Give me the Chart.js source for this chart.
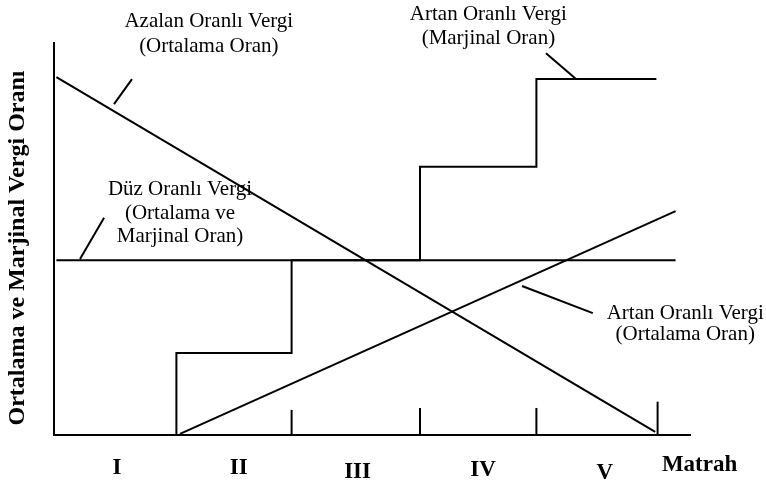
<!DOCTYPE html>
<html>
<head>
<meta charset="utf-8">
<script src="https://cdn.jsdelivr.net/npm/chart.js@4.4.0/dist/chart.umd.min.js"></script>
<style>
	html, body { margin: 0; padding: 0; background: #fff; }
	#wrap { width: 766px; height: 489px; }
</style>
</head>
<body>
<div id="wrap"><canvas id="chart-vergi" width="766" height="489"></canvas></div>
<script>
// x: matrah (one unit ~ one bracket), y: vergi orani (0-100)
const DECREASING_AVG = [{ x: 0.02, y: 91.3 }, { x: 5.01, y: 0.8 }];
const FLAT_RATE = [{ x: 0.02, y: 44.6 }, { x: 5.18, y: 44.6 }];
const PROGRESSIVE_MARGINAL = [
	{ x: 1.02, y: 0 }, { x: 1.02, y: 20.9 },
	{ x: 1.98, y: 20.9 }, { x: 1.98, y: 44.6 },
	{ x: 3.05, y: 44.6 }, { x: 3.05, y: 68.4 },
	{ x: 4.02, y: 68.4 }, { x: 4.02, y: 90.8 },
	{ x: 5.02, y: 90.8 },
];
const PROGRESSIVE_AVG = [{ x: 1.05, y: 0.3 }, { x: 5.18, y: 57.1 }];

// bracket boundary ticks on the matrah axis
const BRACKET_TICK_X = [1.98, 3.05, 4.02, 5.03];
const BRACKET_TICK_H = [6.4, 6.9, 6.9, 8.5];

// leader lines from labels to curves
const LEADER_AZALAN = [{ x: 0.65, y: 90.8 }, { x: 0.5, y: 84.4 }];
const LEADER_DUZ = [{ x: 0.417, y: 55.4 }, { x: 0.217, y: 44.9 }];
const LEADER_MARJINAL = [{ x: 4.1, y: 97.4 }, { x: 4.35, y: 90.8 }];
const LEADER_ORTALAMA = [{ x: 3.9, y: 38.0 }, { x: 4.49, y: 31.1 }];

// bracket labels
const BRACKET_LABELS = ["I", "II", "III", "IV", "V", "Matrah"];
const BRACKET_LABEL_X = [0.525, 1.54, 2.53, 3.575, 4.59, 5.38];
const BRACKET_LABEL_Y = [-8.4, -8.4, -9.4, -8.9, -9.7, -7.7];

const Y_TITLE = "Ortalama ve Marjinal Vergi Oranı";

// curve captions: anchor (center of first line) + lines
const CAPTIONS = [
	{ x: 1.29, y: 105.4, lines: ["Azalan Oranlı Vergi", "(Ortalama Oran)"], gap: 25 },
	{ x: 3.62, y: 107.2, lines: ["Artan Oranlı Vergi", "(Marjinal Oran)"], gap: 23.5 },
	{ x: 1.05, y: 62.6, lines: ["Düz Oranlı Vergi", "(Ortalama ve", "Marjinal Oran)"], gap: 23.5 },
	{ x: 5.26, y: 31.0, lines: ["Artan Oranlı Vergi", "(Ortalama Oran)"], gap: 21.5 },
];

const INK = "#000";

const lineSet = (data, width) => ({
	data: data,
	borderColor: INK,
	backgroundColor: INK,
	borderWidth: width,
	pointRadius: 0,
	tension: 0,
	fill: false,
});

const tickSets = BRACKET_TICK_X.map((x, i) => lineSet([{ x: x, y: 0 }, { x: x, y: BRACKET_TICK_H[i] }], 2));

const textPlugin = {
	id: "texts",
	afterDraw(chart) {
		const { ctx, scales } = chart;
		const sx = scales.x, sy = scales.y;
		ctx.save();
		ctx.fillStyle = INK;
		ctx.textAlign = "center";
		ctx.textBaseline = "middle";

		ctx.font = "21px 'Liberation Serif', 'Times New Roman', serif";
		CAPTIONS.forEach((c) => {
			const px = sx.getPixelForValue(c.x);
			const py = sy.getPixelForValue(c.y);
			c.lines.forEach((t, i) => ctx.fillText(t, px, py + i * c.gap));
		});

		ctx.font = "bold 23px 'Liberation Serif', 'Times New Roman', serif";
		BRACKET_LABELS.forEach((t, i) => {
			ctx.fillText(t, sx.getPixelForValue(BRACKET_LABEL_X[i]), sy.getPixelForValue(BRACKET_LABEL_Y[i]));
		});

		ctx.font = "bold 24px 'Liberation Serif', 'Times New Roman', serif";
		ctx.translate(sx.getPixelForValue(-0.3), sy.getPixelForValue(47.7));
		ctx.rotate(-Math.PI / 2);
		ctx.fillText(Y_TITLE, 0, 0);
		ctx.restore();
	},
};

const bgPlugin = {
	id: "bg",
	beforeDraw(chart) {
		const ctx = chart.ctx;
		ctx.save();
		ctx.fillStyle = "#fff";
		ctx.fillRect(0, 0, chart.width, chart.height);
		ctx.restore();
	},
};

new Chart(document.getElementById("chart-vergi"), {
	type: "line",
	data: {
		datasets: [
			lineSet(DECREASING_AVG, 2),
			lineSet(FLAT_RATE, 2),
			lineSet(PROGRESSIVE_MARGINAL, 2),
			lineSet(PROGRESSIVE_AVG, 2),
			lineSet(LEADER_AZALAN, 2),
			lineSet(LEADER_DUZ, 2),
			lineSet(LEADER_MARJINAL, 2),
			lineSet(LEADER_ORTALAMA, 2),
			...tickSets,
		],
	},
	options: {
		responsive: false,
		animation: false,
		devicePixelRatio: 1,
		layout: {
			padding: { left: 54, top: 43, right: 76, bottom: 54 },
		},
		scales: {
			x: {
				type: "linear",
				min: 0,
				max: 5.3,
				grid: { display: false, drawTicks: false },
				ticks: { display: false },
				border: { display: true, color: INK, width: 2 },
			},
			y: {
				type: "linear",
				min: 0,
				max: 100,
				grid: { display: false, drawTicks: false },
				ticks: { display: false },
				border: { display: true, color: INK, width: 2 },
			},
		},
		plugins: {
			legend: { display: false },
			tooltip: { enabled: false },
		},
	},
	plugins: [bgPlugin, textPlugin],
});
</script>
</body>
</html>
